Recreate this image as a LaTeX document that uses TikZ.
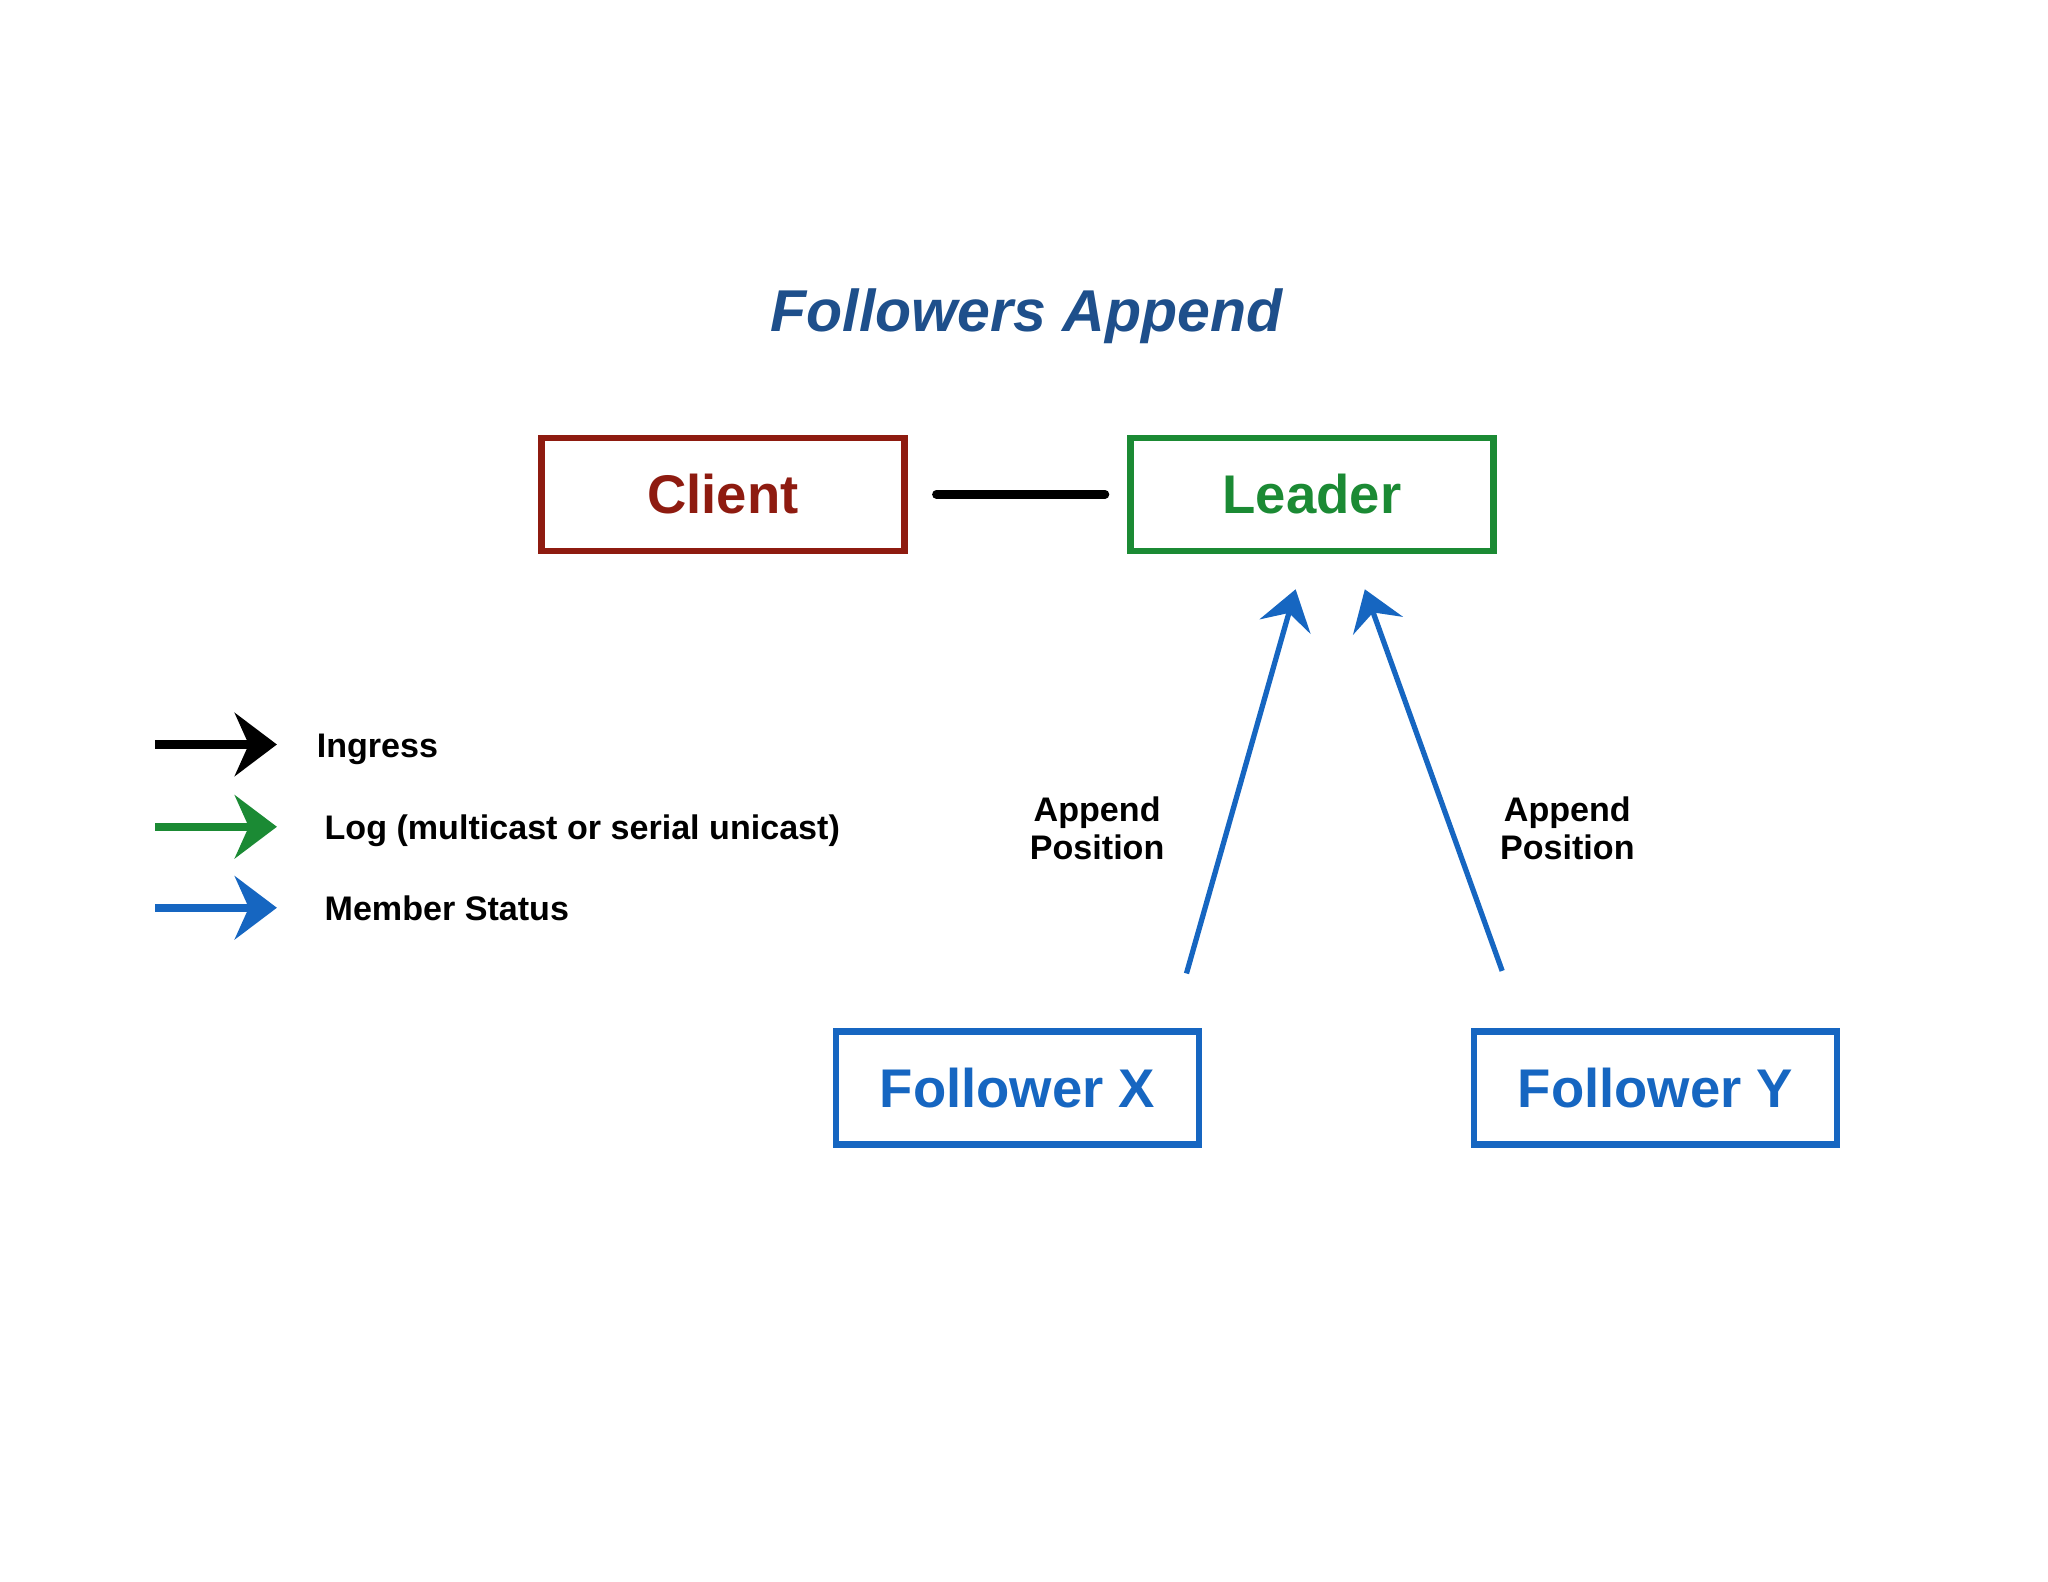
\documentclass[tikz,border=0pt]{standalone}
\usepackage{fontspec}
\setmainfont{Liberation Sans}
\usepackage{xcolor}
\usepackage{tikz}
\usetikzlibrary{arrows.meta}
\definecolor{clientred}{HTML}{8E1B10}
\definecolor{leadergreen}{HTML}{1B8A34}
\definecolor{statusblue}{HTML}{1666C1}
\definecolor{titleblue}{HTML}{1E4F8B}
\tikzstyle{box} = [rectangle, minimum width=3.63cm, minimum height=1.13cm, line width=1.8pt, text centered, font=\fontsize{15.5}{18}\selectfont\bfseries]
\tikzstyle{legendtext} = [anchor=base west, inner sep=0pt, font=\fontsize{9.7}{11}\selectfont\bfseries]
\tikzstyle{note} = [align=center, inner sep=0pt, font=\fontsize{9.7}{10.8}\selectfont\bfseries]
\tikzstyle{wire} = [line width=2.4pt, line cap=round]
\tikzstyle{keyarrow} = [line width=2.4pt, -{Stealth[length=12pt,width=18pt,inset=4pt]}]
\tikzstyle{status} = [line width=1.5pt, draw=statusblue, -{Stealth[length=11pt,width=15pt,inset=4pt]}]

\begin{document}
\begin{tikzpicture}[x=0.01306cm, y=-0.01306cm, node distance=5.89cm]
    \useasboundingbox (0,0) rectangle (1568,1211);
    \node (title) [anchor=base, text=titleblue, font=\fontsize{16.8}{20}\selectfont\bfseries\itshape] at (786,254) {Followers Append};
    \node (client) [box, draw=clientred, text=clientred] at (553.5,378.5) {Client};
    \node (leader) [box, draw=leadergreen, text=leadergreen, right of=client] {Leader};
    \node (followerX) [box, draw=statusblue, text=statusblue] at (779,833) {Follower X};
    \node (followerY) [box, draw=statusblue, text=statusblue] at (1267.5,833) {Follower Y};
    \node (appendX) [note] at (840,634) {Append\\Position};
    \node (appendY) [note] at (1200,634) {Append\\Position};
    % legend
    \node (ingress) [legendtext] at (242,580) {Ingress};
    \node (log) [legendtext] at (248,643) {Log (multicast or serial unicast)};
    \node (member) [legendtext] at (248,705) {Member Status};
    \draw [keyarrow, draw=black] ([shift={(-123,-10)}]ingress.base west) -- ([shift={(-30,-10)}]ingress.base west);
    \draw [keyarrow, draw=leadergreen] ([shift={(-129,-10)}]log.base west) -- ([shift={(-36,-10)}]log.base west);
    \draw [keyarrow, draw=statusblue] ([shift={(-129,-10)}]member.base west) -- ([shift={(-36,-10)}]member.base west);
    % connectors
    \draw [wire] ([shift={(22,0)}]client.east) -- ([shift={(-17,0)}]leader.west);
    \draw [status] ([shift={(-12,-42)}]followerX.north east) -- ([shift={(-12.5,27)}]leader.south);
    \draw [status] ([shift={(24,-44)}]followerY.north west) -- ([shift={(40.5,27)}]leader.south);
\end{tikzpicture}
\end{document}
